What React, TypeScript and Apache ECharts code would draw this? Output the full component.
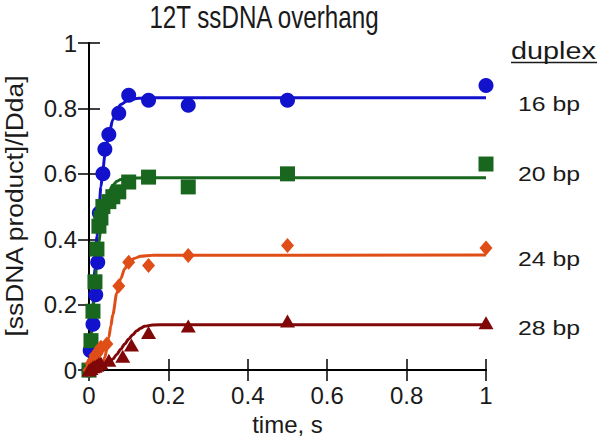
import React, { useEffect, useRef } from "react";
import * as echarts from "echarts";

const xTicks = [0, 0.2, 0.4, 0.6, 0.8, 1];
const yTicks = [0, 0.2, 0.4, 0.6, 0.8, 1];

const seriesNames = ["16 bp", "20 bp", "24 bp", "28 bp"];
const colors = ["#1212cc", "#19661e", "#e04e18", "#800808"];
const symbols = ["circle", "rect", "diamond", "triangle"];

const blueT = [0, 0.003, 0.01, 0.017, 0.022, 0.026, 0.035, 0.04, 0.05, 0.075, 0.1, 0.15, 0.25, 0.5, 1];
const blueY = [0, 0.06, 0.14, 0.23, 0.33, 0.48, 0.6, 0.675, 0.72, 0.785, 0.84, 0.825, 0.81, 0.825, 0.87];

const greenT = [0, 0.005, 0.01, 0.015, 0.02, 0.025, 0.03, 0.035, 0.05, 0.06, 0.075, 0.1, 0.15, 0.25, 0.5, 1];
const greenY = [0, 0.09, 0.18, 0.27, 0.37, 0.44, 0.465, 0.5, 0.515, 0.53, 0.545, 0.575, 0.59, 0.56, 0.6, 0.63];

const orangeT = [0, 0.005, 0.01, 0.015, 0.02, 0.025, 0.03, 0.045, 0.075, 0.1, 0.15, 0.25, 0.5, 1];
const orangeY = [0, 0.02, 0.03, 0.045, 0.05, 0.06, 0.07, 0.08, 0.257, 0.33, 0.32, 0.35, 0.381, 0.373];

const redT = [0, 0.005, 0.01, 0.015, 0.02, 0.025, 0.03, 0.05, 0.085, 0.107, 0.15, 0.25, 0.5, 1];
const redY = [0, 0.005, 0.01, 0.012, 0.015, 0.02, 0.022, 0.03, 0.042, 0.077, 0.115, 0.135, 0.15, 0.145];

const blueFitT = [0, 0.005, 0.01, 0.015, 0.02, 0.025, 0.03, 0.035, 0.04, 0.05, 0.06, 0.07, 0.08, 0.1, 0.125, 0.15, 1];
const blueFitY = [0, 0.1, 0.2, 0.31, 0.41, 0.49, 0.56, 0.61, 0.66, 0.72, 0.765, 0.795, 0.812, 0.826, 0.831, 0.833, 0.833];

const greenFitT = [0, 0.005, 0.01, 0.015, 0.02, 0.025, 0.03, 0.035, 0.04, 0.05, 0.06, 0.07, 0.08, 0.1, 0.15, 1];
const greenFitY = [0, 0.09, 0.18, 0.26, 0.33, 0.39, 0.44, 0.48, 0.51, 0.545, 0.565, 0.577, 0.583, 0.587, 0.588, 0.588];

const orangeFitT = [0, 0.03, 0.035, 0.04, 0.045, 0.05, 0.055, 0.06, 0.07, 0.08, 0.09, 0.1, 0.115, 0.13, 0.16, 1];
const orangeFitY = [0, 0.005, 0.02, 0.04, 0.065, 0.1, 0.135, 0.17, 0.235, 0.28, 0.31, 0.328, 0.342, 0.348, 0.351, 0.352];

const redFitT = [0, 0.02, 0.03, 0.04, 0.05, 0.06, 0.07, 0.08, 0.09, 0.1, 0.11, 0.12, 0.13, 0.14, 0.16, 0.2, 1];
const redFitY = [0, 0.003, 0.007, 0.013, 0.022, 0.034, 0.048, 0.064, 0.08, 0.095, 0.108, 0.12, 0.128, 0.134, 0.138, 0.139, 0.139];

const titleText = "12T ssDNA overhang";
const xName = "time, s";
const yName = "[ssDNA product]/[Dda]";
const legendTitle = "duplex";
const labelY = [104, 174, 259, 328];

const FONT = "'Liberation Sans', Arial, Helvetica, sans-serif";
const INK = "#1a1a1a";

const zip = (t: number[], y: number[]) => t.map((v, i) => [v, y[i]]);

export default function App() {
  const ref = useRef<HTMLDivElement>(null);
  useEffect(() => {
    if (!ref.current) return;
    const chart = echarts.init(ref.current, undefined, { renderer: "svg" });
    const pts = [zip(blueT, blueY), zip(greenT, greenY), zip(orangeT, orangeY), zip(redT, redY)];
    const fits = [
      zip(blueFitT, blueFitY),
      zip(greenFitT, greenFitY),
      zip(orangeFitT, orangeFitY),
      zip(redFitT, redFitY),
    ];
    const lineSeries = fits.map((d, i) => ({
      type: "line",
      name: seriesNames[i] + " fit",
      data: d,
      showSymbol: false,
      smooth: 0.3,
      smoothMonotone: "x",
      lineStyle: { color: colors[i], width: 3 },
      z: 2,
    }));
    const sizes: any[] = [15, 15, [13, 15], [15, 13]];
    const scatterSeries = pts.map((d, i) => ({
      type: "scatter",
      name: seriesNames[i],
      data: d,
      symbol: symbols[i],
      symbolSize: sizes[i],
      itemStyle: { color: colors[i], opacity: 1 },
      clip: false,
      z: 3,
    }));
    const axisCommon = {
      min: 0,
      max: 1,
      interval: 0.2,
      axisLine: { show: true, lineStyle: { color: "#000", width: 2 } },
      axisTick: { show: true, inside: true, length: 11, lineStyle: { color: "#000", width: 1.5 } },
      splitLine: { show: false },
    };
    chart.setOption({
      animation: false,
      backgroundColor: "#fff",
      grid: { left: 89, top: 43, right: 114, bottom: 68 },
      xAxis: [
        {
          ...axisCommon,
          type: "value",
          position: "bottom",
          name: xName,
          nameLocation: "middle",
          nameGap: 38,
          nameTextStyle: { fontFamily: FONT, fontSize: 24, color: INK },
          axisLabel: { fontFamily: FONT, fontSize: 24, color: INK, margin: 13 },
        },
        {
          ...axisCommon,
          type: "value",
          position: "top",
          axisLabel: { show: false },
        },
      ],
      yAxis: [
        {
          ...axisCommon,
          type: "value",
          position: "left",
          axisLabel: { fontFamily: FONT, fontSize: 24, color: INK, margin: 12 },
        },
        {
          ...axisCommon,
          type: "value",
          position: "right",
          axisLabel: { show: false },
        },
      ],
      graphic: [
        {
          type: "text",
          x: 264,
          y: 17,
          scaleX: 0.78,
          style: {
            text: titleText,
            fontFamily: FONT,
            fontSize: 31,
            fill: INK,
            align: "center",
            verticalAlign: "middle",
          },
        },
        {
          type: "text",
          x: 14,
          y: 206,
          rotation: Math.PI / 2,
          scaleX: 1.1,
          style: {
            text: yName,
            fontFamily: FONT,
            fontSize: 24,
            fill: INK,
            align: "center",
            verticalAlign: "middle",
          },
        },
        {
          type: "text",
          x: 511,
          y: 51,
          scaleX: 1.2,
          style: {
            text: legendTitle,
            fontFamily: FONT,
            fontSize: 24,
            fill: INK,
            align: "left",
            verticalAlign: "middle",
          },
        },
        {
          type: "line",
          shape: { x1: 511, y1: 62.5, x2: 597, y2: 62.5 },
          style: { stroke: INK, lineWidth: 1.5 },
        },
        ...seriesNames.map((n, i) => ({
          type: "text",
          x: 518,
          y: labelY[i],
          scaleX: 1.18,
          style: {
            text: n,
            fontFamily: FONT,
            fontSize: 21,
            fill: INK,
            align: "left",
            verticalAlign: "middle",
          },
        })),
      ],
      series: [...lineSeries, ...scatterSeries],
    });
    return () => chart.dispose();
  }, []);
  return (
    <div
      ref={ref}
      style={{ position: "fixed", left: 0, top: 0, width: 600, height: 441, background: "#fff" }}
    />
  );
}
